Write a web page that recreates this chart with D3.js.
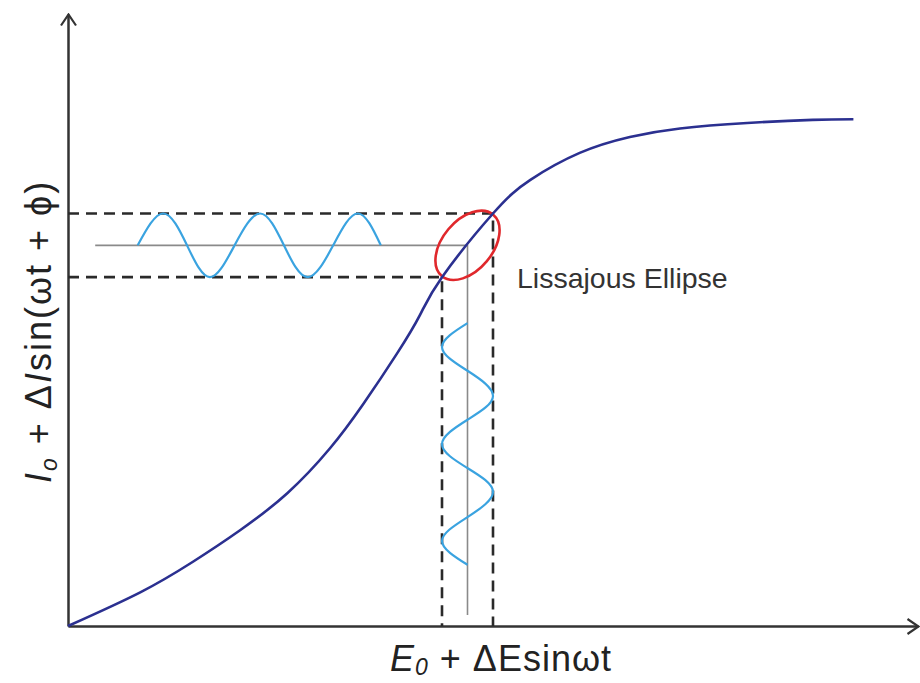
<!DOCTYPE html>
<html>
<head>
<meta charset="utf-8">
<script src="https://cdn.jsdelivr.net/npm/d3@7"></script>
<style>
  body { margin: 0; background: #fff; }
  svg { display: block; }
  text { font-family: "Liberation Sans", Arial, sans-serif; }
</style>
</head>
<body>
<svg id="chart" width="920" height="683"></svg>
<script>
// Steady-state polarisation curve: potential E against current I (arbitrary units)
const curveE = [0, 0.85, 1.47, 2.02, 2.58, 3.08, 3.47, 3.87, 4.14, 4.40, 5.00, 5.44, 6.02, 6.61, 7.20, 7.99, 8.76, 9.24];
const curveI = [0, 0.55, 1.05, 1.56, 2.17, 2.90, 3.62, 4.45, 5.08, 5.70, 6.74, 7.29, 7.73, 7.99, 8.13, 8.22, 8.27, 8.28];

// Operating point and perturbation amplitudes
const E0 = 4.7, dE = 0.3;
const I0 = 6.22, dI = 0.52;

// Current response trace (drawn along the E direction), quarter-phase points
const currentWaveE = [0.82, 1.12, 1.40, 1.67, 1.96, 2.26, 2.54, 2.82, 3.12, 3.41, 3.68];
const currentWavePhase = [0, 1, 0, -1, 0, 1, 0, -1, 0, 1, 0];

// Potential perturbation trace (drawn along the I direction), quarter-phase points
const potentialWaveI = [4.95, 4.56, 4.17, 3.76, 3.37, 2.97, 2.58, 2.19, 1.78, 1.39, 1.00];
const potentialWavePhase = [0, -1, 0, 1, 0, -1, 0, 1, 0, -1, 0];

// Baselines of the two traces
const baseStartE = 0.32;
const baseEndI = 0.18;

const svg = d3.select("#chart");
const x = d3.scaleLinear().domain([0, 10]).range([68, 918]);
const y = d3.scaleLinear().domain([0, 10]).range([626, 14]);

const line = d3.line().x(d => x(d[0])).y(d => y(d[1]));

// Open arrowhead for the axes
svg.append("defs").append("marker")
  .attr("id", "arrow")
  .attr("markerUnits", "userSpaceOnUse")
  .attr("viewBox", "-14 -10 16 20")
  .attr("refX", 0).attr("refY", 0)
  .attr("markerWidth", 16).attr("markerHeight", 20)
  .attr("orient", "auto")
  .append("path")
  .attr("d", "M-11,-7.5L0,0L-11,7.5")
  .attr("fill", "none")
  .attr("stroke", "#333")
  .attr("stroke-width", 2.2);

// Axes (no ticks)
const xAxis = svg.append("g")
  .attr("transform", `translate(0,${y(0)})`)
  .call(d3.axisBottom(x).tickValues([]).tickSizeOuter(0));
const yAxis = svg.append("g")
  .attr("transform", `translate(${x(0)},0)`)
  .call(d3.axisLeft(y).tickValues([]).tickSizeOuter(0));
[xAxis, yAxis].forEach(g => g.select(".domain")
  .attr("stroke", "#333")
  .attr("stroke-width", 2.5)
  .attr("marker-end", "url(#arrow)"));

// Dashed projections of the operating window
const hi = I0 + dI, lo = I0 - dI;
svg.append("path")
  .attr("d", line([[0, hi], [E0 + dE, hi], [E0 + dE, 0]]))
  .attr("fill", "none").attr("stroke", "#2a2a2a")
  .attr("stroke-width", 2.6).attr("stroke-dasharray", "11,7");
svg.append("path")
  .attr("d", line([[0, lo], [E0 - dE, lo], [E0 - dE, 0]]))
  .attr("fill", "none").attr("stroke", "#2a2a2a")
  .attr("stroke-width", 2.6).attr("stroke-dasharray", "11,7");

// Grey baselines of the sinusoidal traces
svg.append("path")
  .attr("d", line([[baseStartE, I0], [E0, I0], [E0, baseEndI]]))
  .attr("fill", "none").attr("stroke", "#8a8a8a").attr("stroke-width", 1.6);

// Sinusoidal traces
const waveLine = d3.line().x(d => x(d[0])).y(d => y(d[1])).curve(d3.curveNatural);
svg.append("path")
  .attr("d", waveLine(currentWaveE.map((e, i) => [e, I0 + dI * currentWavePhase[i]])))
  .attr("fill", "none").attr("stroke", "#3aa3e0").attr("stroke-width", 2.2);
svg.append("path")
  .attr("d", waveLine(potentialWaveI.map((v, i) => [E0 + dE * potentialWavePhase[i], v])))
  .attr("fill", "none").attr("stroke", "#3aa3e0").attr("stroke-width", 2.2);

// Lissajous ellipse around the operating point
svg.append("ellipse")
  .attr("cx", x(E0)).attr("cy", y(I0))
  .attr("rx", 40).attr("ry", 25)
  .attr("transform", `rotate(-50,${x(E0)},${y(I0)})`)
  .attr("fill", "none").attr("stroke", "#e0282c").attr("stroke-width", 2.6);

// Polarisation curve
svg.append("path")
  .attr("d", d3.line().x(d => x(d)).y((d, i) => y(curveI[i])).curve(d3.curveNatural)(curveE))
  .attr("fill", "none").attr("stroke", "#2b3090").attr("stroke-width", 2.6);

// Annotation
svg.append("text")
  .attr("x", 517).attr("y", 288)
  .attr("font-size", 28.5).attr("fill", "#333")
  .text("Lissajous Ellipse");

// Axis titles
const xt = svg.append("text")
  .attr("x", 390).attr("y", 671)
  .attr("font-size", 36).attr("letter-spacing", 1).attr("fill", "#222");
xt.append("tspan").attr("font-style", "italic").text("E");
xt.append("tspan").attr("font-style", "italic").attr("font-size", 23).attr("dy", 4).text("0");
xt.append("tspan").attr("dy", -4).text(" + ΔEsinωt");

const yt = svg.append("text")
  .attr("transform", "translate(51,483) rotate(-90)")
  .attr("font-size", 36).attr("letter-spacing", 2).attr("fill", "#222");
yt.append("tspan").attr("font-style", "italic").text("I");
yt.append("tspan").attr("font-style", "italic").attr("font-size", 23).attr("dy", 6).text("o");
yt.append("tspan").attr("dy", -6).text(" + Δ");
yt.append("tspan").attr("font-style", "italic").text("I");
yt.append("tspan").text("sin(ωt + ϕ)");
</script>
</body>
</html>
